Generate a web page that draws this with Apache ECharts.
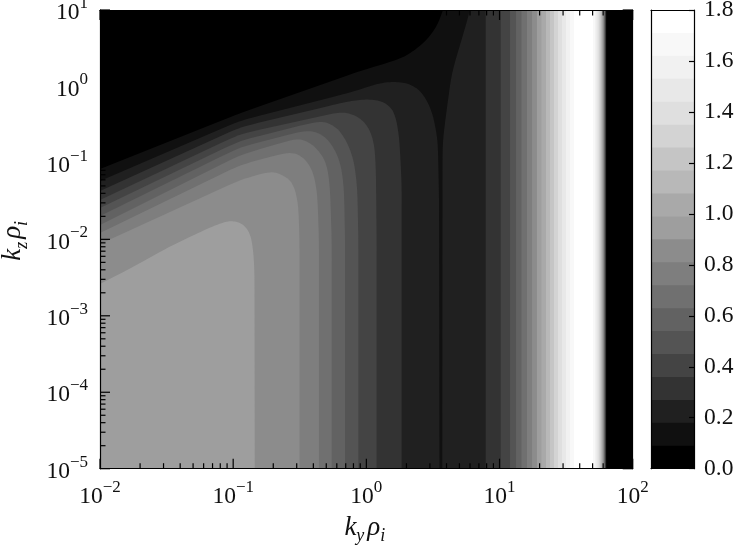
<!DOCTYPE html>
<html>
<head>
<meta charset="utf-8">
<style>html,body{margin:0;padding:0;background:#fff}#c{width:734px;height:548px}</style>
<script src="https://cdn.jsdelivr.net/npm/echarts@6/dist/echarts.min.js"></script>
</head>
<body>
<div id="c"></div>
<script>
// Contour edges: [log10(ky rho_i), log10(kz rho_i)], value >= band level lies below / left of the edge
const edge1 = [[-2,-1.080],[-0.949,-0.351],[-0.025,0.215],[0.253,0.359],[0.350,0.457],[0.455,0.608],[0.531,0.791],[0.576,1]];
const edge2Left = [[-2,-1.237],[-0.949,-0.448],[-0.100,-0.069],[0.103,0.049],[0.228,0.062],[0.328,0.032],[0.416,-0.069],[0.491,-0.308],[0.528,-0.613],[0.538,-0.805],[0.546,-1.485],[0.549,-5]];
const edge2Right = [[0.775,1],[0.763,0.895],[0.641,0.176],[0.603,-0.308],[0.579,-0.635],[0.572,-0.831],[0.570,-5]];
const edge3 = [[-2,-1.367],[-0.949,-0.534],[-0.198,-0.220],[-0.072,-0.177],[0.052,-0.168],[0.153,-0.220],[0.215,-0.351],[0.247,-0.657],[0.265,-1.263],[0.265,-5]];
const edge4 = [[-2,-1.485],[-0.949,-0.622],[-0.223,-0.343],[-0.148,-0.343],[-0.060,-0.396],[0.015,-0.526],[0.060,-0.744],[0.072,-1.093],[0.077,-2],[0.077,-5]];
const edge5 = [[-2,-1.590],[-0.949,-0.710],[-0.348,-0.448],[-0.248,-0.504],[-0.173,-0.635],[-0.098,-0.919],[-0.068,-1.311],[-0.060,-2],[-0.060,-5]];
const edge6 = [[-2,-1.694],[-0.949,-0.796],[-0.448,-0.570],[-0.348,-0.613],[-0.273,-0.723],[-0.198,-0.962],[-0.168,-1.311],[-0.160,-2],[-0.160,-5]];
const edge7 = [[-2,-1.812],[-0.949,-0.897],[-0.523,-0.678],[-0.436,-0.723],[-0.361,-0.831],[-0.298,-1.005],[-0.273,-1.311],[-0.260,-2],[-0.260,-5]];
const edge8 = [[-2,-1.917],[-0.949,-1.027],[-0.573,-0.853],[-0.476,-0.919],[-0.403,-1.093],[-0.368,-1.394],[-0.356,-2],[-0.356,-5]];
const edge9 = [[-2,-2.061],[-0.949,-1.224],[-0.723,-1.106],[-0.624,-1.158],[-0.549,-1.267],[-0.511,-1.528],[-0.502,-2],[-0.502,-5]];
const edge10 = [[-2,-2.584],[-1.752,-2.362],[-1.497,-2.113],[-1.249,-1.904],[-1.084,-1.780],[-1.001,-1.756],[-0.926,-1.799],[-0.874,-1.917],[-0.851,-2.113],[-0.840,-2.401],[-0.838,-5]];

// Right-hand ridge: log10(ky) where each band level starts and stops (levels 3..19)
const ridgeLevels = [3,4,5,6,7,8,9,10,11,12,13,14,15,16,17,18,19];
const ridgeRise = [0.896,1.009,1.079,1.124,1.165,1.206,1.244,1.281,1.315,1.349,1.379,1.409,1.439,1.469,1.499,1.529,1.559];
const ridgeFall = [1.797,1.795,1.793,1.790,1.787,1.785,1.782,1.778,1.773,1.768,1.762,1.755,1.747,1.738,1.728,1.717,1.702];
const fallLevel1 = 1.802;
const fallLevel2 = 1.800;

// Colour levels
const levelEdges = [0,0.09,0.18,0.27,0.36,0.45,0.54,0.63,0.72,0.81,0.90,0.99,1.08,1.17,1.26,1.35,1.44,1.53,1.62,1.71,1.80];
const levelColors = ['#000000','#101010','#202020','#333333','#444444','#545454','#626262','#707070','#7e7e7e','#8c8c8c','#9e9e9e','#a9a9a9','#b8b8b8','#c5c5c5','#d3d3d3','#dfdfdf','#e8e8e8','#f1f1f1','#f8f8f8','#ffffff'];

// Axis ticks
const xDecades = [0.01,0.1,1,10,100];
const yDecades = [1e-5,1e-4,1e-3,1e-2,1e-1,1,10];
const minorMultiples = [2,3,4,5,6,7,8,9];

const XMIN=0.01, XMAX=100, YMIN=1e-5, YMAX=10;
const LX=-2, RX=2, BY=-5, TY=1;

const polys = [];
polys.push({level:0, edge:[[LX,TY],[RX,TY]], close:[[RX,BY],[LX,BY]]});
polys.push({level:1, edge:edge1, close:[[fallLevel1,TY],[fallLevel1,BY],[LX,BY]]});
polys.push({level:2, edge:edge2Left, close:[[LX,BY]]});
polys.push({level:2, edge:edge2Right, close:[[fallLevel2,BY],[fallLevel2,TY]]});
[edge3,edge4,edge5,edge6,edge7,edge8,edge9,edge10].forEach((e,i)=>{
  polys.push({level:i+3, edge:e, close:[[LX,BY]]});
});
ridgeLevels.forEach((lv,i)=>{
  polys.push({level:lv, edge:[[ridgeRise[i],TY],[ridgeFall[i],TY]], close:[[ridgeFall[i],BY],[ridgeRise[i],BY]]});
});
polys.sort((a,b)=>a.level-b.level);

// Round the corners of a contour polyline on screen
function rounded(pts){
  let cur=pts;
  for(let it=0;it<3;it++){
    const out=[cur[0]];
    for(let i=0;i<cur.length-1;i++){
      const a=cur[i],b=cur[i+1];
      const len=Math.hypot(b[0]-a[0],b[1]-a[1])||1;
      const t=Math.min(0.25,7/len);
      if(i>0) out.push([a[0]+(b[0]-a[0])*t,a[1]+(b[1]-a[1])*t]);
      if(i<cur.length-2) out.push([b[0]-(b[0]-a[0])*t,b[1]-(b[1]-a[1])*t]);
    }
    out.push(cur[cur.length-1]);
    cur=out;
  }
  return cur;
}

const MAJ=10, MIN=5.5;
const tickData = [];
xDecades.forEach(d=>{
  tickData.push({value:[d,YMIN,0,MAJ]}); tickData.push({value:[d,YMAX,1,MAJ]});
  if(d<XMAX) minorMultiples.forEach(m=>{
    tickData.push({value:[d*m,YMIN,0,MIN]}); tickData.push({value:[d*m,YMAX,1,MIN]});
  });
});
yDecades.forEach(d=>{
  tickData.push({value:[XMIN,d,2,MAJ]}); tickData.push({value:[XMAX,d,3,MAJ]});
  if(d<YMAX) minorMultiples.forEach(m=>{
    tickData.push({value:[XMIN,d*m,2,MIN]}); tickData.push({value:[XMAX,d*m,3,MIN]});
  });
});

const FONT='"Liberation Serif","DejaVu Serif",serif';
const labelRich = {
  b:{fontFamily:FONT,fontSize:23.5,color:'#111',lineHeight:30,verticalAlign:'bottom'},
  s:{fontFamily:FONT,fontSize:17,color:'#111',lineHeight:18,verticalAlign:'top'}
};
function powerLabel(v){
  const e=Math.round(Math.log10(v));
  return '{b|10}{s|'+(e<0?'\u2212'+(-e):e)+'}';
}
const nameRich = {
  m:{fontFamily:FONT,fontStyle:'italic',fontSize:27,color:'#111',lineHeight:36,verticalAlign:'middle'},
  u:{fontFamily:FONT,fontStyle:'italic',fontSize:18,color:'#111',lineHeight:18,verticalAlign:'bottom',padding:[0,3,0,0]}
};
const frame = {show:true,onZero:false,lineStyle:{color:'#000',width:1.2}};

const option = {
  animation:false,
  backgroundColor:'#fff',
  grid:[
    {left:100,top:10,width:532.7,height:458.7,containLabel:false,outerBoundsMode:'none'},
    {left:651,top:10,width:43,height:458.7,containLabel:false,outerBoundsMode:'none'}
  ],
  xAxis:[
    {type:'log',logBase:10,gridIndex:0,min:XMIN,max:XMAX,position:'bottom',z:10,axisLine:frame,axisTick:{show:false},splitLine:{show:false},minorTick:{show:false},
     axisLabel:{margin:10,formatter:powerLabel,rich:labelRich,showMinLabel:true,showMaxLabel:true},
     name:'{m|k}{u|y}{m|\u03c1}{u|i}',nameLocation:'middle',nameGap:41,nameTextStyle:{rich:nameRich}},
    {type:'log',logBase:10,gridIndex:0,min:XMIN,max:XMAX,position:'top',z:10,axisLine:frame,axisTick:{show:false},axisLabel:{show:false},splitLine:{show:false}},
    {type:'value',gridIndex:1,min:0,max:1,position:'top',z:10,axisLine:frame,axisTick:{show:false},axisLabel:{show:false},splitLine:{show:false}},
    {type:'value',gridIndex:1,min:0,max:1,position:'bottom',z:10,axisLine:frame,axisTick:{show:false},axisLabel:{show:false},splitLine:{show:false}}
  ],
  yAxis:[
    {type:'log',logBase:10,gridIndex:0,min:YMIN,max:YMAX,position:'left',z:10,axisLine:frame,axisTick:{show:false},splitLine:{show:false},minorTick:{show:false},
     axisLabel:{margin:12,formatter:powerLabel,rich:labelRich,showMinLabel:true,showMaxLabel:true},
     name:'{m|k}{u|z}{m|\u03c1}{u|i}',nameLocation:'middle',nameGap:69,nameRotate:90,nameTextStyle:{rich:nameRich}},
    {type:'log',logBase:10,gridIndex:0,min:YMIN,max:YMAX,position:'right',z:10,axisLine:frame,axisTick:{show:false},axisLabel:{show:false},splitLine:{show:false}},
    {type:'value',gridIndex:1,min:0,max:1.8,interval:0.2,position:'right',z:10,axisLine:frame,
     axisTick:{show:true,inside:true,length:5,lineStyle:{color:'#000',width:1.2}},splitLine:{show:false},
     axisLabel:{margin:10,fontFamily:FONT,fontSize:23.5,color:'#111',formatter:v=>v.toFixed(1),showMinLabel:true,showMaxLabel:true}},
    {type:'value',gridIndex:1,min:0,max:1.8,position:'left',z:10,axisLine:frame,axisTick:{show:false},axisLabel:{show:false},splitLine:{show:false}}
  ],
  series:[
    {type:'custom',xAxisIndex:0,yAxisIndex:0,z:2,silent:true,clip:true,
     data:polys.map((p,i)=>({value:[1,1,i]})),
     renderItem:function(params,api){
       const p=polys[api.value(2)];
       const toPx=q=>api.coord([Math.pow(10,q[0]),Math.pow(10,q[1])]);
       const pts=rounded(p.edge.map(toPx)).concat(p.close.map(toPx));
       return {type:'polygon',shape:{points:pts},style:{fill:levelColors[p.level],stroke:null}};
     }},
    {type:'custom',xAxisIndex:0,yAxisIndex:0,z:5,silent:true,clip:false,
     data:tickData,
     renderItem:function(params,api){
       const c=api.coord([api.value(0),api.value(1)]);
       const side=api.value(2), len=api.value(3);
       const d=[[0,-len],[0,len],[len,0],[-len,0]][side];
       return {type:'line',shape:{x1:c[0],y1:c[1],x2:c[0]+d[0],y2:c[1]+d[1]},style:{stroke:'#000',lineWidth:1.2}};
     }},
    {type:'custom',xAxisIndex:2,yAxisIndex:2,z:2,silent:true,
     data:levelColors.map((c,i)=>({value:[0.5,levelEdges[i],i]})),
     renderItem:function(params,api){
       const a=api.coord([0,api.value(1)]), b=api.coord([1,levelEdges[levelEdges.length-1]]);
       return {type:'rect',shape:{x:a[0],y:b[1],width:b[0]-a[0],height:a[1]-b[1]},style:{fill:levelColors[api.value(2)],stroke:null}};
     }}
  ]
};
echarts.init(document.getElementById('c'),null,{renderer:'canvas'}).setOption(option);
</script>
</body>
</html>
